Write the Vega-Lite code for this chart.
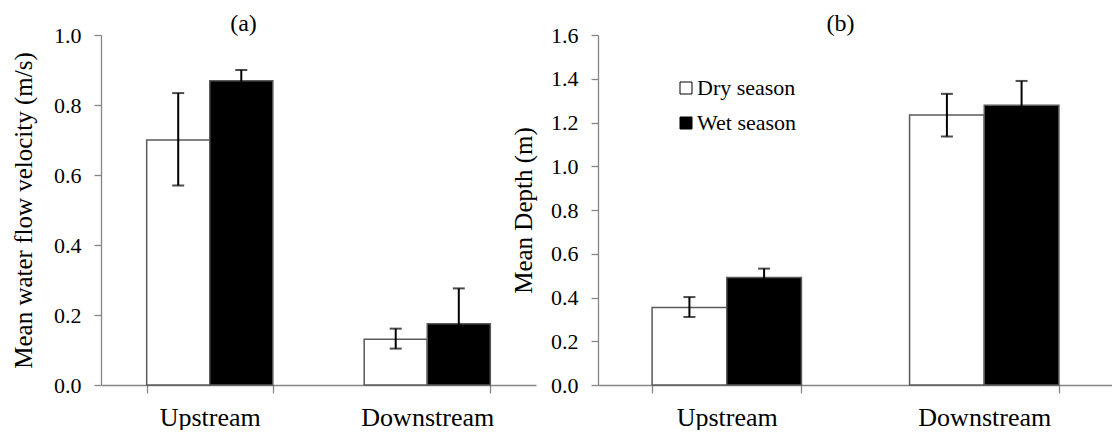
{
  "$schema": "https://vega.github.io/schema/vega-lite/v6.json",
  "background": "white",
  "padding": {"left": 11, "top": 12, "right": 0, "bottom": 0},
  "bounds": "flush",
  "spacing": 62,
  "config": {
    "font": "Liberation Serif",
    "view": {"stroke": null},
    "style": {"guide-label": {"font": "Liberation Serif"}, "guide-title": {"font": "Liberation Serif"}},
    "axis": {
      "labelFont": "Liberation Serif",
      "titleFont": "Liberation Serif",
      "domainColor": "#868686",
      "tickColor": "#868686",
      "domainWidth": 1.3,
      "tickWidth": 1.3,
      "labelColor": "#000000",
      "titleColor": "#000000",
      "grid": false,
      "titleFontWeight": "normal"
    },
    "title": {"font": "Liberation Serif", "fontSize": 24, "fontWeight": "normal", "color": "#000000", "anchor": "middle", "offset": -12},
    "legend": {"labelFont": "Liberation Serif"}
  },
  "datasets": {
    "vel": [
      {"site": "Upstream", "season": "Dry season", "mean": 0.70, "lo": 0.570, "hi": 0.834},
      {"site": "Upstream", "season": "Wet season", "mean": 0.869, "lo": 0.838, "hi": 0.900},
      {"site": "Downstream", "season": "Dry season", "mean": 0.131, "lo": 0.104, "hi": 0.161},
      {"site": "Downstream", "season": "Wet season", "mean": 0.175, "lo": 0.074, "hi": 0.276}
    ],
    "depth": [
      {"site": "Upstream", "season": "Dry season", "mean": 0.354, "lo": 0.311, "hi": 0.402},
      {"site": "Upstream", "season": "Wet season", "mean": 0.491, "lo": 0.450, "hi": 0.532},
      {"site": "Downstream", "season": "Dry season", "mean": 1.234, "lo": 1.136, "hi": 1.331},
      {"site": "Downstream", "season": "Wet season", "mean": 1.279, "lo": 1.168, "hi": 1.390}
    ]
  },
  "resolve": {"scale": {"y": "independent", "fill": "independent", "x": "independent", "xOffset": "independent"}, "legend": {"fill": "independent"}},
  "hconcat": [
    {
      "width": 435,
      "height": 350,
      "title": {"text": "(a)", "dx": -75},
      "data": {"name": "vel"},
      "encoding": {
        "x": {
          "field": "site", "type": "nominal", "sort": ["Upstream", "Downstream"],
          "scale": {"paddingInner": 0.42, "paddingOuter": 0.21},
          "axis": {"title": null, "labelAngle": 0, "labelFont": "Liberation Serif", "labelFontSize": 26, "tickBand": "extent", "tickSize": 8, "labelPadding": 11}
        },
        "xOffset": {"field": "season", "type": "nominal", "sort": ["Dry season", "Wet season"], "scale": {"paddingInner": 0, "paddingOuter": 0}}
      },
      "layer": [
        {
          "mark": {"type": "bar", "stroke": "#595959", "strokeWidth": 1.5},
          "encoding": {
            "y": {
              "field": "mean", "type": "quantitative", "scale": {"domain": [0, 1]},
              "title": "Mean water flow velocity (m/s)",
              "axis": {"values": [0, 0.2, 0.4, 0.6, 0.8, 1.0], "format": ".1f", "tickSize": 7, "labelPadding": 13, "labelFont": "Liberation Serif", "labelFontSize": 22, "titleFont": "Liberation Serif", "titleFontSize": 25, "titlePadding": 17}
            },
            "fill": {"field": "season", "type": "nominal", "scale": {"domain": ["Dry season", "Wet season"], "range": ["#ffffff", "#000000"]}, "legend": null}
          }
        },
        {
          "mark": {"type": "rule", "color": "#000000", "strokeWidth": 2},
          "encoding": {
            "y": {"field": "lo", "type": "quantitative", "title": "Mean water flow velocity (m/s)"},
            "y2": {"field": "hi"}
          }
        },
        {
          "mark": {"type": "tick", "color": "#000000", "thickness": 2, "size": 12},
          "encoding": {"y": {"field": "lo", "type": "quantitative", "title": "Mean water flow velocity (m/s)"}}
        },
        {
          "mark": {"type": "tick", "color": "#000000", "thickness": 2, "size": 12},
          "encoding": {"y": {"field": "hi", "type": "quantitative", "title": "Mean water flow velocity (m/s)"}}
        }
      ]
    },
    {
      "width": 515,
      "height": 350,
      "title": {"text": "(b)", "dx": -15},
      "data": {"name": "depth"},
      "encoding": {
        "x": {
          "field": "site", "type": "nominal", "sort": ["Upstream", "Downstream"],
          "scale": {"paddingInner": 0.42, "paddingOuter": 0.21},
          "axis": {"title": null, "labelAngle": 0, "labelFont": "Liberation Serif", "labelFontSize": 26, "tickBand": "extent", "tickSize": 8, "labelPadding": 11}
        },
        "xOffset": {"field": "season", "type": "nominal", "sort": ["Dry season", "Wet season"], "scale": {"paddingInner": 0, "paddingOuter": 0}}
      },
      "layer": [
        {
          "mark": {"type": "bar", "stroke": "#595959", "strokeWidth": 1.5},
          "encoding": {
            "y": {
              "field": "mean", "type": "quantitative", "scale": {"domain": [0, 1.6]},
              "title": "Mean Depth (m)",
              "axis": {"values": [0, 0.2, 0.4, 0.6, 0.8, 1.0, 1.2, 1.4, 1.6], "format": ".1f", "tickSize": 7, "labelPadding": 13, "labelFont": "Liberation Serif", "labelFontSize": 22, "titleFont": "Liberation Serif", "titleFontSize": 25, "titlePadding": 14}
            },
            "fill": {
              "field": "season", "type": "nominal",
              "scale": {"domain": ["Dry season", "Wet season"], "range": ["#ffffff", "#000000"]},
              "legend": {"title": null, "orient": "none", "legendX": 77, "legendY": 42, "symbolType": "square", "symbolSize": 144, "symbolStrokeColor": "#000000", "symbolStrokeWidth": 1, "labelFont": "Liberation Serif", "labelFontSize": 22, "labelColor": "#000000", "labelOffset": 0, "rowPadding": 13}
            }
          }
        },
        {
          "mark": {"type": "rule", "color": "#000000", "strokeWidth": 2},
          "encoding": {
            "y": {"field": "lo", "type": "quantitative", "title": "Mean Depth (m)"},
            "y2": {"field": "hi"}
          }
        },
        {
          "mark": {"type": "tick", "color": "#000000", "thickness": 2, "size": 12},
          "encoding": {"y": {"field": "lo", "type": "quantitative", "title": "Mean Depth (m)"}}
        },
        {
          "mark": {"type": "tick", "color": "#000000", "thickness": 2, "size": 12},
          "encoding": {"y": {"field": "hi", "type": "quantitative", "title": "Mean Depth (m)"}}
        }
      ]
    }
  ]
}
